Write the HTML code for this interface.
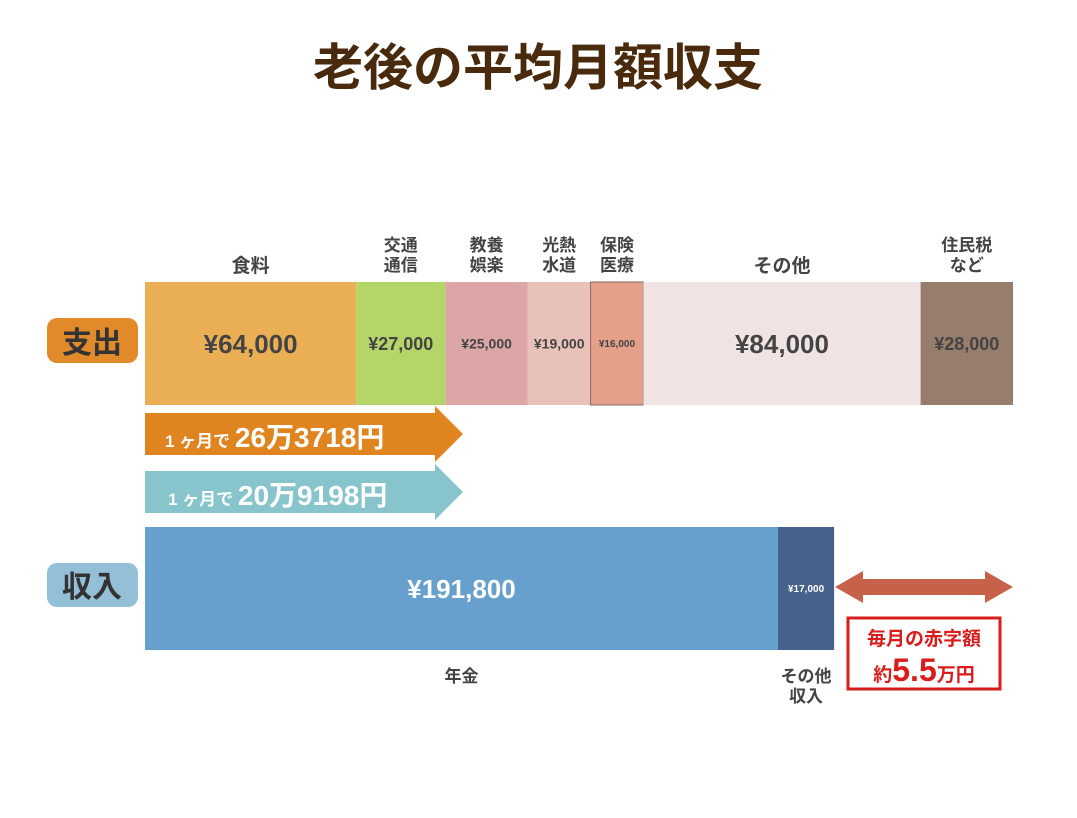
<!DOCTYPE html>
<html><head><meta charset="utf-8"><style>
body{margin:0;background:#fff;}
svg text{font-family:"Liberation Sans","Noto Sans CJK JP",sans-serif;font-weight:bold;}
</style></head><body>
<svg id="c" width="1077" height="813" viewBox="0 0 1077 813" xmlns="http://www.w3.org/2000/svg">
<text x="538" y="85" text-anchor="middle" font-size="50" fill="#4a2a0c">老後の平均月額収支</text>
<g><rect x="47" y="318" width="91" height="45" rx="10" fill="#e08a2a"/><text x="92" y="353" text-anchor="middle" font-size="30" font-weight="normal" fill="#333">支出</text></g>
<g><rect x="47" y="563" width="91" height="44" rx="10" fill="#93c0d6"/><text x="92" y="597" text-anchor="middle" font-size="30" font-weight="normal" fill="#333">収入</text></g>
<g id="exp"></g><g id="inc"></g>
<g><polygon points="145,413 435,413 435,406 463,434 435,462 435,455 145,455" fill="#e08420"/><text x="165" y="447" font-size="17" fill="#fff">1 ヶ月で <tspan font-size="28">26万3718円</tspan></text></g>
<g><polygon points="145,471 435,471 435,464 463,492 435,520 435,513 145,513" fill="#88c4cc"/><text x="168" y="505" font-size="17" fill="#fff">1 ヶ月で <tspan font-size="28">20万9198円</tspan></text></g>
<g><polygon points="835,587 863,571 863,579 985,579 985,571 1013,587 985,603 985,595 863,595 863,603" fill="#c8614a"/></g>
<g><rect x="848" y="618" width="152" height="71" fill="#fff" stroke="#d91c1c" stroke-width="3"/><text x="924" y="645" text-anchor="middle" font-size="19" fill="#d91c1c">毎月の赤字額</text><text x="924" y="681" text-anchor="middle" font-size="19" fill="#d91c1c">約<tspan font-size="32">5.5</tspan>万円</text></g>
</svg>
<script>
const expLabels=[["食料"],["交通","通信"],["教養","娯楽"],["光熱","水道"],["保険","医療"],["その他"],["住民税","など"]];
const expValues=[64000,27000,25000,19000,16000,84000,28000];
const expColors=["#eaaf55","#b4d568","#dca6a6","#e8c1b8","#e5a08a","#f0e3e3","#977d6b"];
const incLabels=[["年金"],["その他","収入"]];
const incValues=[191800,17000];
const incColors=["#679fcd","#45628d"];
const x0=145, totalW=868;
const sum=expValues.reduce((a,b)=>a+b,0);
const xs=v=>v*totalW/sum;
const fmt=v=>"¥"+v.toLocaleString("en-US");
const NS="http://www.w3.org/2000/svg";
function mk(t,a,p){const e=document.createElementNS(NS,t);for(const k in a)e.setAttribute(k,a[k]);p.appendChild(e);return e;}
function draw(g,vals,cols,labs,y,h,labelBelow,pref){
 let x=x0;
 vals.forEach((v,i)=>{
  const w=xs(v);
  const r=mk("rect",{x:x,y:y,width:w,height:h,fill:cols[i]},g);
  
  
  if(pref==='expense'&&i===4){r.setAttribute('stroke','#8a6a60');r.setAttribute('stroke-width','1');}
  const fs=w>150?26:(w>85?18:(w>60?14:10));
  const t=mk("text",{x:x+w/2,y:y+h/2+fs*0.36,"text-anchor":"middle","font-size":fs,fill:(pref==='income'?'#fff':'#444')},g);
  t.textContent=fmt(v);
  
  
  const L=labs[i];
  L.forEach((s,j)=>{
   const ly=labelBelow?y+h+32+j*20:(L.length===1?y-10:y-31+j*20);
   const lt=mk("text",{x:x+w/2,y:ly,"text-anchor":"middle","font-size":L.length===1&&!labelBelow?19:17,fill:"#444"},g);
   lt.textContent=s;
   
   
  });
  x+=w;
 });
}
draw(document.getElementById('exp'),expValues,expColors,expLabels,282,123,false,'expense');
draw(document.getElementById('inc'),incValues,incColors,incLabels,527,123,true,'income');
</script>
</body></html>
